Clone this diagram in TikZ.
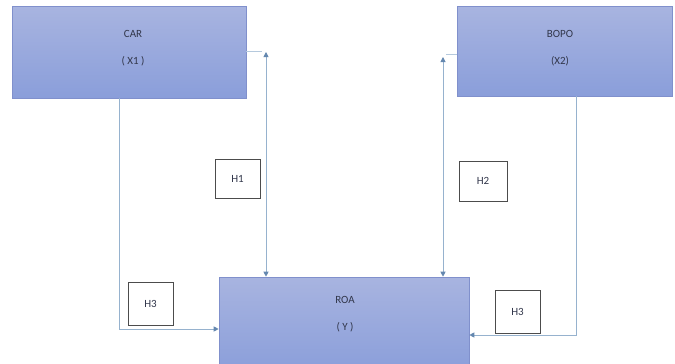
\documentclass[tikz,border=0pt]{standalone}
\usepackage{fontspec}
\setmainfont{Carlito}
\usetikzlibrary{arrows.meta}
\definecolor{boxtop}{RGB}{168,180,224}
\definecolor{boxbot}{RGB}{138,158,218}
\definecolor{boxline}{RGB}{128,144,204}
\definecolor{linec}{RGB}{150,178,206}
\definecolor{tipc}{RGB}{100,135,175}
\definecolor{txt}{RGB}{50,55,75}
\tikzset{
  varbox/.style={draw=boxline, line width=0.6pt, top color=boxtop, bottom color=boxbot, rectangle, inner sep=0pt},
  vartext/.style={text=txt, font=\fontsize{11}{27}\selectfont, align=center, inner sep=0pt},
  hbox/.style={draw=black!70, line width=0.8pt, fill=white, rectangle, inner sep=0pt, text=txt, font=\fontsize{11}{12}\selectfont},
  conn/.style={draw=linec, line width=0.9pt, arrows={-Triangle[length=5pt,width=5pt,color=tipc]}},
  biconn/.style={draw=linec, line width=0.9pt, arrows={Triangle[length=5pt,width=5pt,color=tipc]-Triangle[length=5pt,width=5pt,color=tipc]}},
  stub/.style={draw=linec!70, line width=0.8pt}
}
\begin{document}
\begin{tikzpicture}[x=1pt,y=-1pt]
\useasboundingbox (0,0) rectangle (675,364);
% variable boxes
\node[varbox, minimum width=234pt, minimum height=92pt] (car) at (129,52) {};
\node[varbox, minimum width=215pt, minimum height=90pt] (bopo) at (564.5,51) {};
\node[varbox, minimum width=250pt, minimum height=96pt] (roa) at (344,325) {};
% texts
\node[vartext] (cart) at (133,48.5) {CAR\\( X1 )};
\node[vartext] (bopot) at (560,48) {BOPO\\(X2)};
\node[vartext] (roat) at (345,314.5) {ROA\\( Y )};
% hypothesis boxes
\node[hbox, minimum width=45pt, minimum height=39pt] (h1) at (237.5,178.5) {H1};
\node[hbox, minimum width=48pt, minimum height=40pt] (h2) at (483,181) {H2};
\node[hbox, minimum width=45pt, minimum height=43pt] (h3l) at (150.5,303.5) {H3};
\node[hbox, minimum width=45pt, minimum height=43pt] (h3r) at (517.5,311.5) {H3};
% coordinates
\coordinate (t1) at (266,52);
\coordinate (s1) at (262,51);
\coordinate (t2) at (443,57);
\coordinate (s2) at (446,54);
\coordinate (c1) at (119,0);
\coordinate (c2) at (576,0);
\coordinate (y1) at (0,329);
\coordinate (y2) at (0,335);
% connectors
\draw[stub] (car.east |- s1) -- (s1);
\draw[stub] (s2) -- (bopo.west |- s2);
\draw[biconn] (t1) -- (t1 |- roa.north);
\draw[biconn] (t2) -- (t2 |- roa.north);
\draw[conn] (car.south -| c1) |- (roa.west |- y1);
\draw[conn] (bopo.south -| c2) |- (roa.east |- y2);
\end{tikzpicture}
\end{document}
